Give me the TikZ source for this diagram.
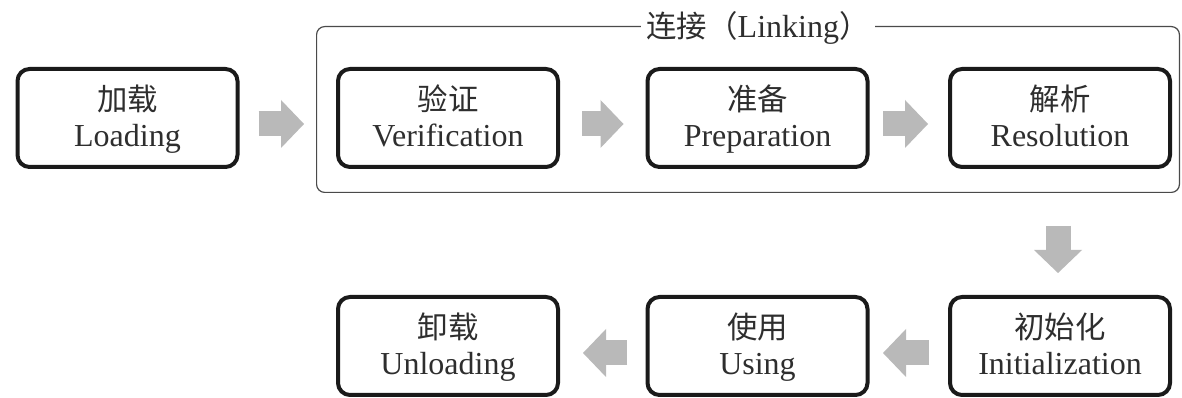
\documentclass[tikz,border=0pt]{standalone}
\usepackage{fontspec}
\setmainfont{Liberation Serif}
\newfontfamily\cjk[Scale=0.95]{Noto Sans CJK SC}
\usetikzlibrary{arrows.meta}
\definecolor{boxline}{HTML}{1A1A1A}
\definecolor{txt}{HTML}{2E2E2E}
\definecolor{arr}{HTML}{B9B9B9}
\definecolor{frm}{HTML}{4A4A4A}
\newcommand{\toprule}{\rule{0pt}{32pt}}
\begin{document}
\begin{tikzpicture}[x=1pt,y=1pt,
  stage/.style={draw=boxline, line width=4pt, rounded corners=12pt,
    minimum width=220pt, minimum height=98pt, inner sep=0pt, align=center,
    text=txt, font=\fontsize{32}{36}\selectfont},
  flow/.style={draw=arr, line width=25pt,
    -{Triangle[length=23pt,width=48pt,line width=0pt]}},
  linkframe/.style={draw=frm, line width=1.2pt, rounded corners=8pt,
    minimum width=862.8pt, minimum height=165.8pt, inner sep=0pt},
  linktitle/.style={fill=white, text=txt, inner xsep=6pt, inner ysep=2pt,
    font=\fontsize{32}{36}\selectfont}]
\useasboundingbox (0,0) rectangle (1182,398);
\fill[white] (0,0) rectangle (1182,398);
\node[linkframe] (link) at (748,288.5) {};
\node[linktitle] (ltitle) at (758,370) {{\cjk 连接（}Linking{\cjk ）}};
\node[stage] (load)   at (127.5,280) {\toprule{\cjk 加载}\\Loading\strut};
\node[stage] (verif)  at (448,280)   {\toprule{\cjk 验证}\\Verification\strut};
\node[stage] (prep)   at (757.5,280) {\toprule{\cjk 准备}\\Preparation\strut};
\node[stage] (resol)  at (1060,280)  {\toprule{\cjk 解析}\\Resolution\strut};
\node[stage] (init)   at (1060,52)   {\toprule{\cjk 初始化}\\Initialization\strut};
\node[stage] (use)    at (757.5,52)  {\toprule{\cjk 使用}\\Using\strut};
\node[stage] (unload) at (448,52)    {\toprule{\cjk 卸载}\\Unloading\strut};
\draw[flow, shorten <=19pt, shorten >=32pt] ([yshift=-6pt]load.east) -- ([yshift=-6pt]verif.west);
\draw[flow, shorten <=22pt, shorten >=22pt] ([yshift=-6pt]verif.east) -- ([yshift=-6pt]prep.west);
\draw[flow, shorten <=13.5pt, shorten >=20pt] ([yshift=-6pt]prep.east) -- ([yshift=-6pt]resol.west);
\draw[flow, shorten <=57pt, shorten >=22pt] ([xshift=-2pt]resol.south) -- ([xshift=-2pt]init.north);
\draw[flow, shorten <=19pt, shorten >=13.5pt] ([yshift=-7pt]init.west) -- ([yshift=-7pt]use.east);
\draw[flow, shorten <=18.5pt, shorten >=23pt] ([yshift=-7pt]use.west) -- ([yshift=-7pt]unload.east);
\end{tikzpicture}
\end{document}
